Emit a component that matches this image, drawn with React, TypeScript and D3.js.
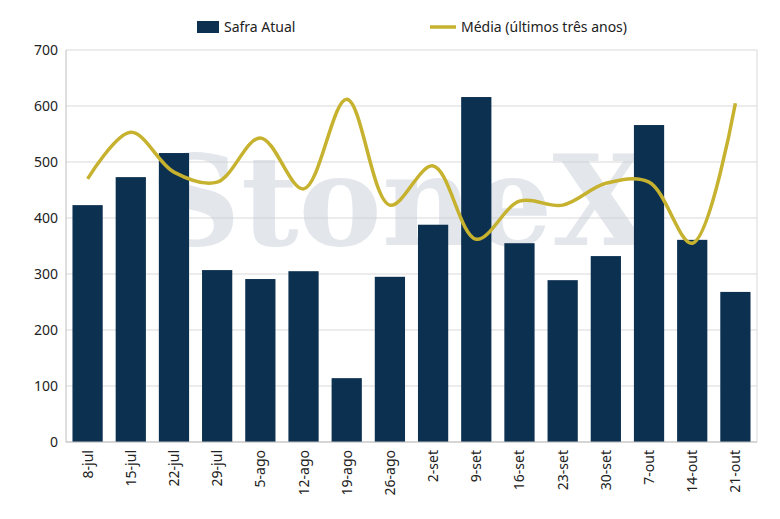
import * as d3 from "d3";

const categories = ["8-jul","15-jul","22-jul","29-jul","5-ago","12-ago","19-ago","26-ago","2-set","9-set","16-set","23-set","30-set","7-out","14-out","21-out"];
const safraAtual = [423,473,516,307,291,305,114,295,388,616,355,289,332,566,361,268];
const media = [470,553,482,464,543,452,612,423,493,362,430,423,462,464,355,605];
const yTicks = [0,100,200,300,400,500,600,700];

const W = 780, H = 519;
const M = { top: 50, right: 23, bottom: 77, left: 66 };

export default function App() {
  const x = d3.scaleBand<string>().domain(categories).range([M.left, W - M.right]).paddingInner(0.3).paddingOuter(0.15);
  const y = d3.scaleLinear().domain([0, 700]).range([H - M.bottom, M.top]);
  const line = d3.line<number>()
    .x((_, i) => x(categories[i])! + x.bandwidth() / 2)
    .y(d => y(d))
    .curve(d3.curveCatmullRom.alpha(0.5));
  const font = "'Noto Sans', sans-serif";
  return (
    <svg width={W} height={H} style={{ position: "absolute", left: 0, top: 0 }} fontFamily={font}>
      <rect width={W} height={H} fill="#fff" />
      {yTicks.map(t => (
        <g key={t}>
          <line x1={M.left} x2={W - M.right} y1={y(t)} y2={y(t)} stroke="#d9d9d9" />
          <text x={M.left - 8} y={y(t)} dy="0.35em" textAnchor="end" fontSize={14} fill="#222">{t}</text>
        </g>
      ))}
      <line x1={M.left} x2={M.left} y1={M.top} y2={y(0)} stroke="#bfbfbf" />
      <line x1={W - M.right} x2={W - M.right} y1={M.top} y2={y(0)} stroke="#d9d9d9" />
      <text x={400} y={245} textAnchor="middle" fontSize={125} fontWeight="bold" fontFamily="'DejaVu Serif', serif" fill="#c8d0da" opacity={0.5}>StoneX</text>
      {safraAtual.map((v, i) => (
        <rect key={i} x={x(categories[i])} y={y(v)} width={x.bandwidth()} height={y(0) - y(v)} fill="#0c3050" />
      ))}
      <path d={line(media)!} fill="none" stroke="#c6b22f" strokeWidth={3.5} />
      <line x1={M.left} x2={W - M.right} y1={y(0)} y2={y(0)} stroke="#bfbfbf" />
      {categories.map(c => {
        const cx = x(c)! + x.bandwidth() / 2;
        return (
          <text key={c} transform={`translate(${cx + 5},${y(0) + 8}) rotate(-90)`} textAnchor="end" fontSize={14} fill="#222">{c}</text>
        );
      })}
      <rect x={197} y={21} width={22} height={12} fill="#0c3050" />
      <text x={224} y={27} dy="0.35em" fontSize={14} fill="#222">Safra Atual</text>
      <line x1={430} x2={456} y1={27} y2={27} stroke="#c6b22f" strokeWidth={3.5} />
      <text x={461} y={27} dy="0.35em" fontSize={14} fill="#222">Média (últimos três anos)</text>
    </svg>
  );
}
